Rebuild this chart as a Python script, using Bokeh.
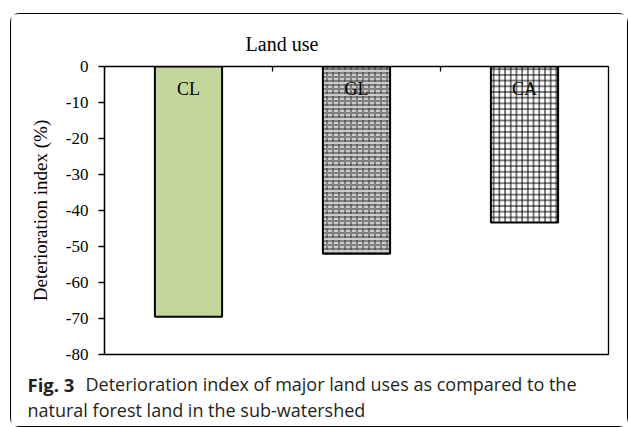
from bokeh.plotting import figure
from bokeh.layouts import column, row
from bokeh.models import Range1d, FixedTicker, LinearAxis, ColumnDataSource, PrintfTickFormatter
from bokeh.embed import file_html
from bokeh.resources import INLINE
from bokeh.core.properties import value

categories = ["CL", "GL", "CA"]
values = [-69.5, -52.0, -43.3]
y_ticks = [0, -10, -20, -30, -40, -50, -60, -70, -80]
x_title = "Land use"
y_title = "Deterioration index (%)"
caption_bold = "Fig. 3"
caption_line1 = "Deterioration index of major land uses as compared to the"
caption_line2 = "natural forest land in the sub-watershed"

SERIF = "Liberation Serif"
SANS = "Open Sans"
W = 616

# ---------- header (x-axis title) ----------
hdr = figure(width=W, height=40, output_backend="svg", toolbar_location=None,
             x_range=Range1d(0, W), y_range=Range1d(0, 40),
             x_axis_location=None, y_axis_location=None, min_border=0)
hdr.grid.visible = False
hdr.outline_line_color = None
hdr.text(x=[270.5], y=[11], text=[x_title], text_align="center",
         text_baseline="alphabetic", text_font=value(SERIF),
         text_font_size="20px", text_color="black")

# ---------- main chart ----------
p = figure(width=W, height=312, output_backend="svg", toolbar_location=None,
           x_range=Range1d(0, len(categories)), y_range=Range1d(-80, 0),
           x_axis_location=None, min_border_left=93, min_border_right=19,
           min_border_top=12, min_border_bottom=12)
p.grid.visible = False
p.outline_line_color = "black"
p.outline_line_width = 1.3
p.background_fill_color = "white"
p.border_fill_color = "white"

xs = [i + 0.5 for i in range(len(categories))]
src = ColumnDataSource(dict(x=xs, top=[0] * len(values), bottom=values, label=categories))

p.vbar(x=xs[0], width=0.4, top=0, bottom=values[0], fill_color="#c4d79b",
       line_color="black", line_width=2)
p.vbar(x=xs[1], width=0.4, top=0, bottom=values[1], fill_color="#cccccc",
       hatch_pattern="horizontal_line", hatch_scale=4, hatch_color="#333333",
       hatch_weight=1, line_color=None)
p.vbar(x=xs[1], width=0.4, top=0, bottom=values[1], fill_alpha=0,
       hatch_pattern="vertical_dash", hatch_scale=6, hatch_color="#333333",
       hatch_weight=1, line_color="black", line_width=2)
p.vbar(x=xs[2], width=0.4, top=0, bottom=values[2], fill_color="white",
       hatch_pattern="cross", hatch_scale=5.7, hatch_color="black",
       hatch_weight=1, line_color="black", line_width=2)

p.text(x="x", y="top", text="label", source=src, text_align="center",
       text_baseline="alphabetic", y_offset=22, text_font=value(SERIF),
       text_font_size="18px", text_color="black")

yax = p.yaxis[0]
yax.ticker = FixedTicker(ticks=y_ticks)
yax.formatter = PrintfTickFormatter(format="%d")
yax.minor_tick_line_color = None
yax.major_tick_in = 0
yax.major_tick_out = 6
yax.major_tick_line_width = 1.3
yax.major_label_standoff = 10
yax.major_label_text_font = SERIF
yax.major_label_text_font_size = "17px"
yax.major_label_text_color = "black"
yax.axis_line_color = "black"
yax.axis_line_width = 1.3
yax.axis_label = y_title
yax.axis_label_text_font = SERIF
yax.axis_label_text_font_size = "19px"
yax.axis_label_text_font_style = "normal"
yax.axis_label_text_color = "black"
yax.axis_label_standoff = 12

top = LinearAxis(ticker=FixedTicker(ticks=[1, 2]), major_tick_in=5, major_tick_out=0,
                 major_tick_line_width=1.3, minor_tick_line_color=None,
                 major_label_overrides={1: "", 2: ""}, major_label_standoff=0,
                 axis_line_color="black")
p.add_layout(top, "above")

# ---------- caption ----------
cap = figure(width=W, height=60, output_backend="svg", toolbar_location=None,
             x_range=Range1d(0, W), y_range=Range1d(0, 60),
             x_axis_location=None, y_axis_location=None, min_border=0)
cap.grid.visible = False
cap.outline_line_color = None
cap.text(x=[16], y=[42.5], text=[caption_bold], text_font=value(SANS),
         text_font_style="bold", text_font_size="18.5px", text_color="#231f20",
         text_baseline="alphabetic")
cap.text(x=[74], y=[42.5], text=[caption_line1], text_font=value(SANS),
         text_font_size="18px", text_color="#231f20", text_baseline="alphabetic")
cap.text(x=[16], y=[16.5], text=[caption_line2], text_font=value(SANS),
         text_font_size="18px", text_color="#231f20", text_baseline="alphabetic")

layout = column(row(hdr), p, row(cap), spacing=0,
                styles={"margin-left": "10px", "margin-top": "13px",
                        "border": "1.3px solid black", "border-radius": "9px"})

open("out.html", "w").write(file_html(layout, INLINE))
